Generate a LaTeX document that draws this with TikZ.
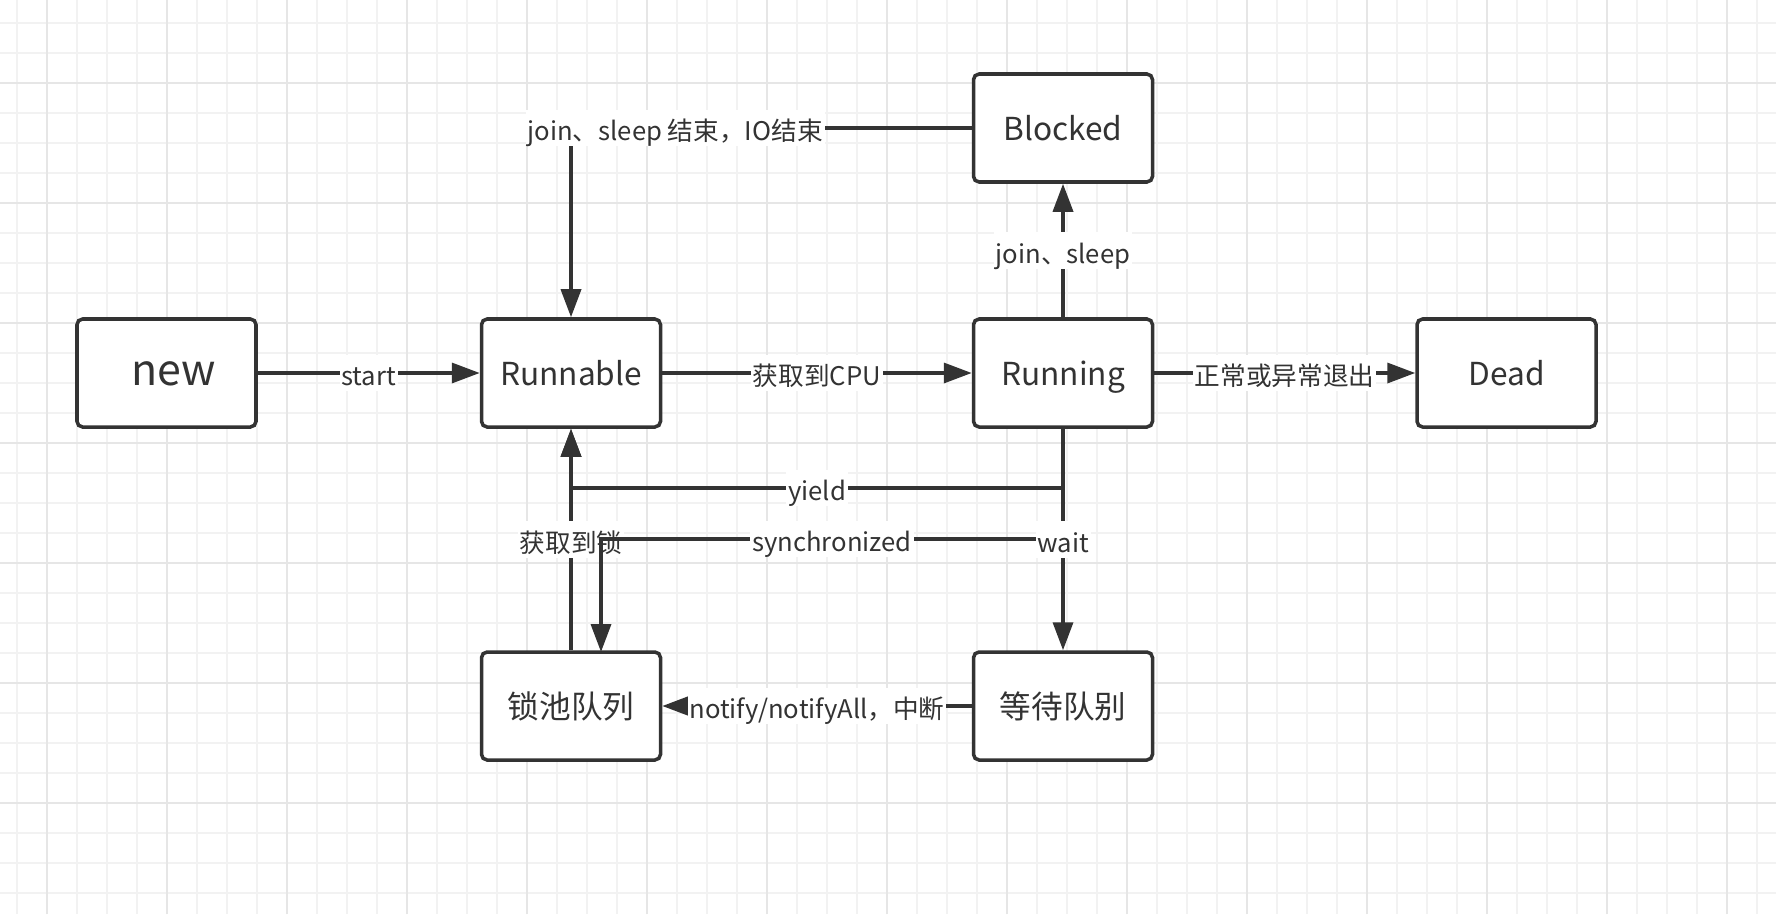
\documentclass[tikz,border=0pt]{standalone}
\usepackage{fontspec}
\setmainfont{Noto Sans CJK SC}
\usetikzlibrary{arrows.meta}
\definecolor{ink}{HTML}{333333}
\definecolor{gridminor}{HTML}{F2F2F2}
\definecolor{gridmajor}{HTML}{E6E6E6}

\begin{document}
\begin{tikzpicture}[style=thick,
    state/.style={draw=ink, line width=1pt, rounded corners=1.6pt, fill=white,
      minimum width=1.79cm, minimum height=1.08cm, inner sep=0pt, text=ink,
      text height=0.73em, text depth=0pt, font=\fontsize{9}{11}\selectfont},
    edge/.style={draw=ink, line width=1pt, -{Triangle[length=2.8mm,width=2mm]}},
    lbl/.style={fill=white, inner xsep=0.5pt, inner ysep=1.5pt, text=ink,
      text height=0.73em, text depth=0pt, font=\fontsize{7.3}{9}\selectfont}]
    \useasboundingbox (0,0) rectangle (17.76,9.14);

% grid
    \foreach \x in {0.167,0.467,...,17.76}
      \draw[gridminor, line width=0.5pt] (\x,0) -- (\x,9.14);
    \foreach \y in {0.213,0.513,...,9.14}
      \draw[gridminor, line width=0.5pt] (0,\y) -- (17.76,\y);
    \foreach \x in {0.467,1.667,...,17.76}
      \draw[gridmajor, line width=0.6pt] (\x,0) -- (\x,9.14);
    \foreach \y in {1.113,2.313,...,9.14}
      \draw[gridmajor, line width=0.6pt] (0,\y) -- (17.76,\y);

% states
    \node[state, font=\fontsize{12.2}{14}\selectfont] (new) at (1.665,5.41) {\hspace{0.15cm}new};
    \node[state] (runnable) at (5.71,5.41) {Runnable};
    \node[state] (running) at (10.63,5.41) {Running};
    \node[state] (dead) at (15.065,5.41) {Dead};
    \node[state] (blocked) at (10.63,7.86) {Blocked};
    \node[state] (lockpool) at (5.71,2.08) {锁池队列};
    \node[state] (waitqueue) at (10.63,2.08) {等待队别};

% bends
    \coordinate (b1) at (5.71,7.86);
    \coordinate (y1) at (10.63,4.26);
    \coordinate (y2) at (5.71,4.26);
    \coordinate (s1) at (10.63,3.75);
    \coordinate (s2) at (6.01,3.75);
    \coordinate (s3) at (6.01,2.62);

% transitions
    \draw[edge] (new) -- node[lbl] {start} (runnable);
    \draw[edge] (runnable) -- node[lbl] {获取到CPU} (running);
    \draw[edge] (running) -- node[lbl] {正常或异常退出} (dead);
    \draw[edge] (running) -- node[lbl] {join、sleep} (blocked);
    \draw[edge] (blocked.west) -- node[lbl, pos=0.74] {join、sleep 结束，IO结束} (b1)
      -- (runnable.north);
    \draw[edge] (lockpool.north) -- node[lbl] {获取到锁} (runnable.south);
    \draw[edge] (running.south) -- (y1) -- node[lbl] {yield} (y2) -- (runnable.south);
    \draw[edge] (running.south) -- (s1) -- node[lbl] {synchronized} (s2) -- (s3);
    \draw[edge] (running.south) -- node[lbl] {wait} (waitqueue.north);
    \draw[edge] (waitqueue) -- node[lbl] {notify/notifyAll，中断} (lockpool);

\end{tikzpicture}
\end{document}
